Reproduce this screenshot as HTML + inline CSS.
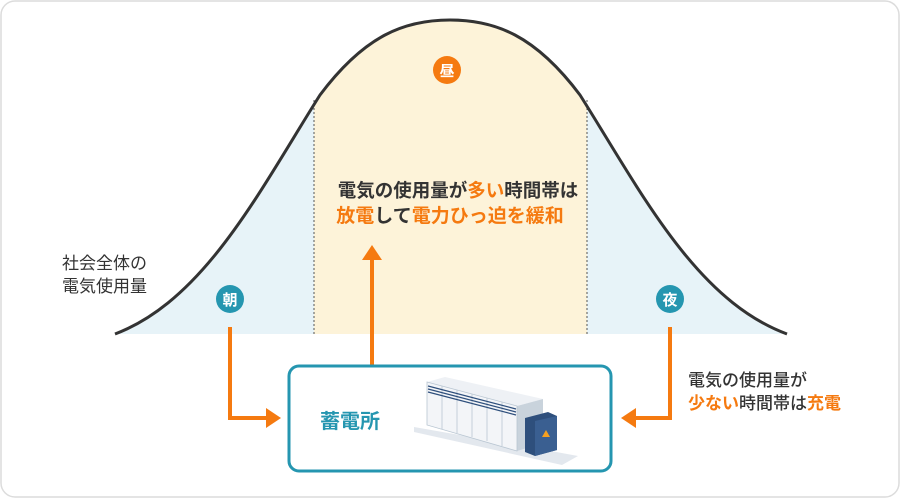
<!DOCTYPE html>
<html><head><meta charset="utf-8"><style>
html,body{margin:0;padding:0;background:#fff;}
svg{display:block;}
text{font-family:"Liberation Sans","Noto Sans CJK JP",sans-serif;font-weight:bold;}
</style></head><body>
<svg width="900" height="498" viewBox="0 0 900 498" xmlns="http://www.w3.org/2000/svg">
<rect x="1" y="1" width="898" height="496" rx="14" fill="#fff" stroke="#dcdcdc" stroke-width="1.5"/>
<defs>
<clipPath id="under"><path d="M115,334 C205,300 260,190 320,95 C365,35 405,20 450,20 C495,20 535,35 580,95 C640,190 695,300 787,334 Z"/></clipPath>
</defs>
<g clip-path="url(#under)">
<rect x="100" y="0" width="214" height="335" fill="#e7f3f8"/>
<rect x="314" y="0" width="273" height="335" fill="#fdf3d9"/>
<rect x="587" y="0" width="210" height="335" fill="#e7f3f8"/>
</g>
<line x1="314" y1="100" x2="314" y2="335" stroke="#555" stroke-width="1" stroke-dasharray="2,2"/>
<line x1="587" y1="100" x2="587" y2="335" stroke="#555" stroke-width="1" stroke-dasharray="2,2"/>
<path d="M115,334 C205,300 260,190 320,95 C365,35 405,20 450,20 C495,20 535,35 580,95 C640,190 695,300 787,334" fill="none" stroke="#333" stroke-width="3"/>

<circle cx="447" cy="70" r="14" fill="#f57a10"/>
<text x="447" y="76" font-size="15" fill="#fff" text-anchor="middle">昼</text>
<circle cx="230" cy="299" r="14" fill="#2596b0"/>
<text x="230" y="305" font-size="15" fill="#fff" text-anchor="middle">朝</text>
<circle cx="670" cy="299" r="14" fill="#2596b0"/>
<text x="670" y="305" font-size="15" fill="#fff" text-anchor="middle">夜</text>

<text x="458" y="197" font-size="18.5" fill="#333" text-anchor="middle">電気の使用量が<tspan fill="#f57a10">多い</tspan>時間帯は</text>
<text x="450" y="222" font-size="19" fill="#f57a10" text-anchor="middle">放電<tspan fill="#333">して</tspan>電力ひっ迫を緩和</text>

<text x="62" y="269" font-size="17" fill="#333" style="font-weight:normal">社会全体の</text>
<text x="62" y="292" font-size="17" fill="#333" style="font-weight:normal">電気使用量</text>

<text x="688" y="386" font-size="17" fill="#333" style="font-weight:500">電気の使用量が</text>
<text x="688" y="409" font-size="17" fill="#f57a10">少ない<tspan fill="#333" style="font-weight:500">時間帯は</tspan>充電</text>

<!-- arrows -->
<path d="M230,327 V418 H268" fill="none" stroke="#f57a10" stroke-width="4"/>
<polygon points="266,408 281,418 266,428" fill="#f57a10"/>
<path d="M670,327 V418 H634" fill="none" stroke="#f57a10" stroke-width="4"/>
<polygon points="636,408 621,418 636,428" fill="#f57a10"/>
<line x1="372" y1="365" x2="372" y2="258" stroke="#f57a10" stroke-width="4"/>
<polygon points="362,260 372,245 382,260" fill="#f57a10"/>

<rect x="289" y="366" width="322" height="105" rx="10" fill="#fff" stroke="#2596b0" stroke-width="3"/>
<text x="350" y="428" font-size="20" fill="#2596b0" text-anchor="middle">蓄電所</text>

<!-- equipment -->
<polygon points="414,427 540,449 578,456 562,465 414,432" fill="#e3e8ee"/>
<polygon points="427,382 445,377 543,399 517,406" fill="#eef1f5"/>
<polygon points="517,406 543,399 543,443 517,451" fill="#c9d3dc"/>
<polygon points="427,382 517,406 517,451 427,425" fill="#f3f5f8" stroke="#b9c6d2" stroke-width="0.8"/>
<g stroke="#b9c6d2" stroke-width="0.8">
<line x1="442" y1="386" x2="442" y2="429"/><line x1="457" y1="390" x2="457" y2="433"/>
<line x1="472" y1="394" x2="472" y2="437"/><line x1="487" y1="398" x2="487" y2="441"/>
<line x1="502" y1="402" x2="502" y2="446"/>
</g>
<g stroke="#2e4f7c" stroke-width="1.2">
<line x1="428" y1="386" x2="516" y2="409"/><line x1="428" y1="389" x2="516" y2="412"/><line x1="428" y1="392" x2="516" y2="415"/>
</g>
<polygon points="525,418 548,412 557,416 557,450 535,456 525,452" fill="#2e4f7c"/>
<polygon points="535,421 557,416 557,450 535,456" fill="#3a5f91"/>
<polygon points="546,430 550,437 542,437" fill="#f5a020"/>
</svg>
</body></html>
